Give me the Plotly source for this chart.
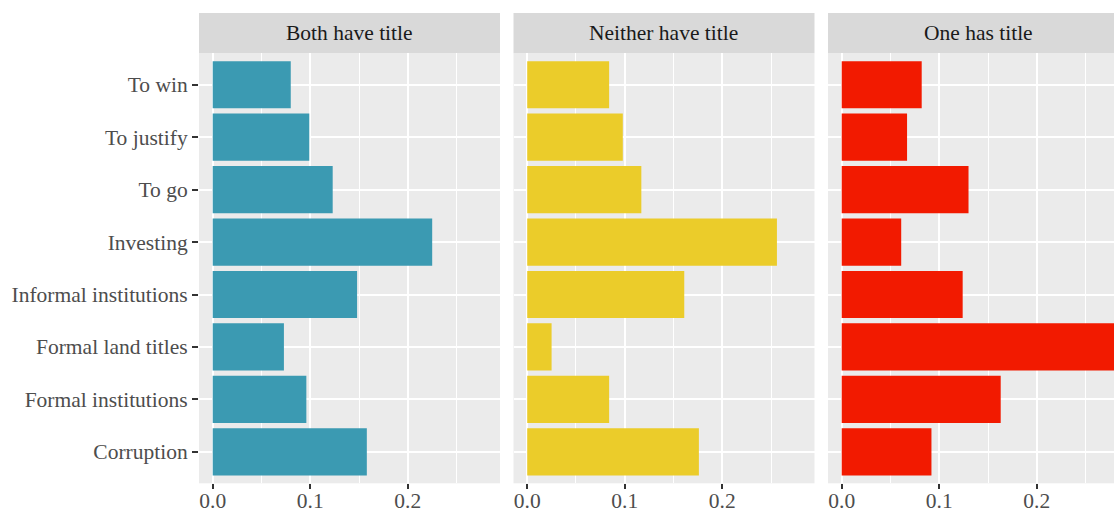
import plotly.graph_objects as go

categories = ["Corruption", "Formal institutions", "Formal land titles",
              "Informal institutions", "Investing", "To go", "To justify", "To win"]
panels = ["Both have title", "Neither have title", "One has title"]
both_vals = [0.158, 0.096, 0.073, 0.148, 0.225, 0.123, 0.099, 0.080]
neither_vals = [0.176, 0.084, 0.025, 0.161, 0.256, 0.117, 0.098, 0.084]
one_vals = [0.092, 0.163, 0.281, 0.124, 0.061, 0.130, 0.067, 0.082]
colors = ["#3B9AB2", "#EBCC2A", "#F21A00"]
x_ticks = [0.0, 0.1, 0.2]

W, H = 1114, 512
FONT = "Liberation Serif"
FS = 21.5

# pixel layout
px_per_unit = 975.5
xmin = -0.01405
panel_w = 301.0
gap = 13.5
left0 = 199.0
top_px, bot_px = 53.3, 483.3
strip_top = 13.0

fig = go.Figure()
series = [both_vals, neither_vals, one_vals]
shapes = []
annotations = []
for i, (name, vals, col) in enumerate(zip(panels, series, colors)):
    ax = "" if i == 0 else str(i + 1)
    x0 = left0 + i * (panel_w + gap)
    x1 = min(x0 + panel_w, W)
    xmax = xmin + (x1 - x0) / px_per_unit
    fig.add_trace(go.Bar(
        x=vals, y=categories, orientation="h", width=0.9,
        marker=dict(color=col, line=dict(width=0)),
        xaxis="x" + ax, yaxis="y" + ax, showlegend=False,
    ))
    fig.layout["xaxis" + ax] = dict(
        domain=[x0 / W, x1 / W], range=[xmin, xmax], anchor="y" + ax,
        automargin=False,
        tickvals=x_ticks, tickformat=".1f",
        showgrid=True, gridcolor="white", gridwidth=1.8,
        minor=dict(dtick=0.05, tick0=0, showgrid=True, gridcolor="white", gridwidth=0.9),
        ticks="outside", ticklen=5, tickwidth=1.6, tickcolor="#333333",
        ticklabelstandoff=-7,
        tickfont=dict(family=FONT, size=FS, color="#4D4D4D"),
        zeroline=False, showline=False, fixedrange=True,
    )
    fig.layout["yaxis" + ax] = dict(
        domain=[(H - bot_px) / H, (H - top_px) / H], anchor="x" + ax,
        automargin=False,
        type="category", categoryorder="array", categoryarray=categories,
        range=[-0.6, 7.6],
        showgrid=True, gridcolor="white", gridwidth=1.8,
        ticks="outside" if i == 0 else "", ticklen=6, tickwidth=1.6, tickcolor="#333333",
        showticklabels=(i == 0),
        tickfont=dict(family=FONT, size=FS, color="#4D4D4D"),
        zeroline=False, showline=False, fixedrange=True,
    )
    shapes.append(dict(type="rect", xref="paper", yref="paper",
                       x0=x0 / W, x1=x1 / W,
                       y0=(H - top_px) / H, y1=(H - strip_top) / H,
                       fillcolor="#D9D9D9", line=dict(width=0), layer="below"))
    annotations.append(dict(text=name, xref="paper", yref="paper",
                            x=(x0 + panel_w / 2) / W, y=(H - (top_px + strip_top) / 2) / H,
                            xanchor="center", yanchor="middle", showarrow=False,
                            font=dict(family=FONT, size=FS, color="#1A1A1A")))

fig.update_layout(
    width=W, height=H, margin=dict(l=0, r=0, t=0, b=0, autoexpand=False),
    paper_bgcolor="white", plot_bgcolor="#EBEBEB",
    shapes=shapes, annotations=annotations, bargap=0.1,
)
fig.write_html("out.html", config={"displayModeBar": False},
               post_script="document.body.style.margin='0px';document.body.style.overflow='hidden';")
